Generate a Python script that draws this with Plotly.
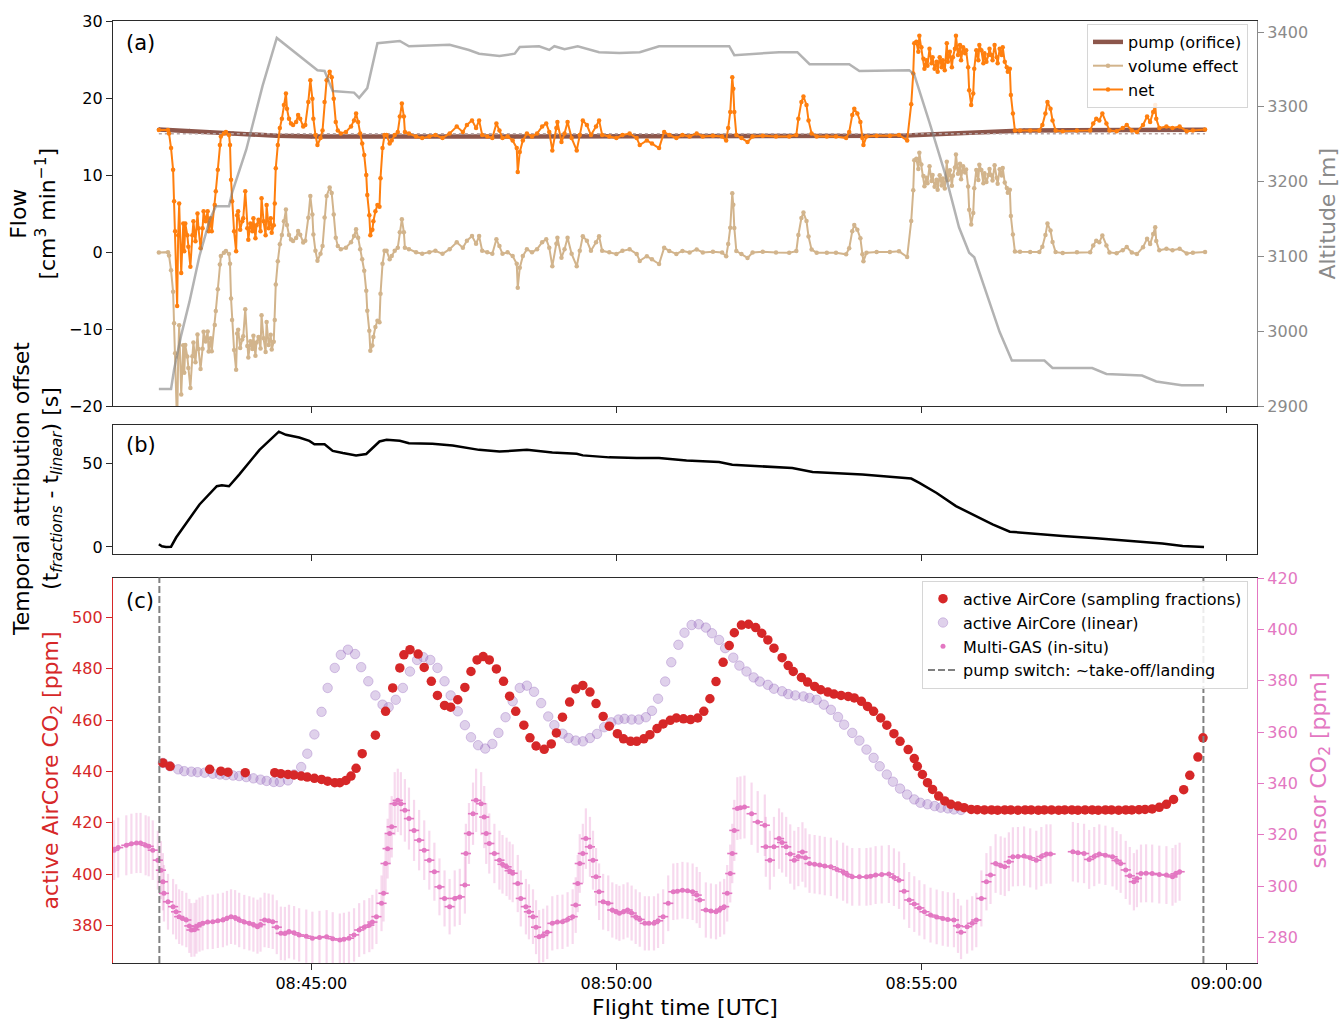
import numpy as np
import plotly.graph_objects as go

# ---------------------------------------------------------------------------
# Time base: seconds after 08:40:00 UTC
# ---------------------------------------------------------------------------
T_TICKS = [300, 600, 900, 1200]
T_TICK_LABELS = ["08:45:00", "08:50:00", "08:55:00", "09:00:00"]
T_RANGE = [104.9, 1230.1]

# pump switched on/off (~take-off and landing)
t_pump_switch = [150.5, 1177.4]

# ---------------------------------------------------------------------------
# (a) flows and altitude
# ---------------------------------------------------------------------------
t_alt = [150, 162, 165, 172, 180, 190, 200, 206, 219, 222, 236, 252, 266, 278,
         288, 306, 313, 321, 342, 347, 355, 365, 387, 396, 436, 455, 465, 485,
         500, 505, 524, 534, 539, 549, 562, 583, 603, 623, 642, 711, 716, 760,
         778, 790, 829, 839, 888, 893, 908, 923, 937, 947, 952, 967, 977, 989,
         1021, 1029, 1068, 1082, 1117, 1131, 1156, 1178]
altitude = [2923, 2923, 2949, 2995, 3039, 3101, 3149, 3167, 3167, 3185, 3243,
            3328, 3392, 3379, 3369, 3349, 3348, 3321, 3319, 3312, 3325, 3385,
            3388, 3381, 3383, 3376, 3371, 3368, 3371, 3380, 3381, 3376, 3381,
            3377, 3381, 3373, 3372, 3373, 3381, 3381, 3369, 3373, 3373, 3357,
            3357, 3348, 3349, 3343, 3279, 3212, 3139, 3105, 3099, 3039, 2999,
            2961, 2961, 2951, 2951, 2943, 2941, 2933, 2928, 2928]

t_pump = [150, 180, 223, 266, 300, 500, 700, 880, 913, 967, 1001, 1100, 1179]
pump_flow = [15.9, 15.75, 15.4, 15.1, 15.02, 15.02, 15.05, 15.1, 15.3, 15.6,
             15.78, 15.85, 15.88]
PUMP_NOMINAL = 15.35

# net flow into the AirCore (pump + volume effect)
net_samples = [
    (150, 15.85), (159, 15.85), (160, 15.4), (162, 13.5), (164, 10.7), (165, 6.6),
    (166, 2.7), (168, -7.0), (169, 2.2), (170, 6.3), (172, -2.7), (174, 3.7),
    (175, 0.1), (176, 3.7), (178, 2.2), (179, 0.7), (181, -1.9), (183, 2.2),
    (184, 4.0), (186, 1.4), (188, 5.0), (189, 3.1), (191, 0.5), (193, 3.1),
    (194, 5.3), (196, 4.0), (198, 5.3), (199, 2.7), (201, 4.4), (202, 2.7),
    (205, 6.1), (206, 7.9), (208, 10.7), (210, 13.9), (211, 15.0), (214, 15.4),
    (216, 15.6), (219, 15.2), (220, 13.9), (221, 9.4), (222, 6.6), (224, 2.7),
    (226, 0.1), (227, 4.8), (228, 5.3), (230, 2.9), (232, 4.0), (233, 4.4),
    (235, 7.9), (237, 3.1), (238, 1.6), (240, 3.7), (242, 2.7), (243, 4.4),
    (245, 1.8), (246, 3.5), (248, 4.2), (250, 2.7), (251, 7.0), (253, 4.0),
    (255, 2.2), (256, 6.1), (258, 3.1), (260, 4.4), (261, 2.5), (263, 3.5),
    (264, 6.3), (265, 10.9), (267, 13.9), (269, 16.1), (271, 17.3), (273, 19.1),
    (275, 20.6), (276, 18.6), (278, 17.3), (280, 16.7), (282, 16.5), (285, 16.9),
    (287, 17.8), (289, 17.3), (292, 16.3), (294, 16.5), (297, 19.5), (299, 22.3),
    (301, 19.9), (302, 17.3), (304, 15.2), (306, 13.9), (309, 14.8), (311, 15.8),
    (313, 19.5), (315, 22.3), (318, 23.4), (320, 22.7), (322, 19.9), (324, 16.9),
    (326, 15.8), (329, 15.4), (334, 15.6), (339, 16.3), (342, 17.1), (344, 18.0),
    (346, 16.9), (348, 15.4), (350, 14.1), (352, 12.6), (354, 10.0), (355, 7.4),
    (357, 4.8), (358, 2.2), (360, 2.9), (361, 4.0), (363, 5.3), (365, 6.1),
    (367, 5.9), (368, 9.6), (370, 13.5), (372, 15.2), (374, 15.2), (377, 14.1),
    (379, 14.5), (382, 15.2), (385, 15.6), (387, 17.6), (389, 19.3), (391, 17.6),
    (392, 15.6), (396, 15.4), (403, 15.0), (409, 14.8), (416, 15.0), (422, 15.2),
    (429, 14.8), (436, 15.4), (443, 16.3), (449, 15.6), (453, 16.5), (458, 17.1),
    (462, 16.1), (465, 17.1), (468, 15.2), (473, 15.0), (478, 14.8), (482, 16.7),
    (485, 15.8), (488, 14.8), (493, 15.0), (498, 14.5), (502, 13.5), (503, 10.4),
    (505, 13.0), (508, 14.5), (512, 15.4), (517, 15.0), (522, 15.4), (527, 16.3),
    (531, 16.7), (534, 15.6), (537, 13.2), (541, 16.1), (542, 16.9), (546, 14.3),
    (549, 15.4), (552, 16.9), (556, 14.8), (561, 13.2), (564, 15.2), (567, 17.1),
    (571, 16.5), (575, 15.2), (580, 16.3), (583, 17.1), (586, 15.2), (593, 15.0),
    (600, 14.8), (606, 15.2), (613, 15.4), (620, 14.8), (623, 13.9), (630, 14.5),
    (635, 14.1), (642, 13.5), (647, 15.6), (652, 15.2), (659, 14.8), (665, 15.2),
    (672, 15.0), (679, 15.4), (685, 15.0), (695, 15.1), (704, 15.0), (708, 14.5),
    (710, 16.1), (712, 18.2), (714, 22.7), (715, 21.2), (716, 18.2), (718, 15.2),
    (723, 14.8), (729, 14.3), (734, 15.0), (744, 15.1), (757, 15.0), (770, 15.0),
    (777, 15.2), (779, 17.3), (782, 19.5), (784, 20.2), (787, 19.1), (789, 17.1),
    (792, 15.4), (797, 15.0), (807, 15.0), (816, 15.0), (826, 14.8), (829, 15.6),
    (832, 17.8), (834, 18.6), (837, 18.0), (840, 16.9), (842, 14.8), (843, 13.9),
    (846, 15.0), (856, 15.1), (869, 15.1), (878, 15.2), (886, 14.5), (890, 19.2),
    (892, 23.2), (893, 27.1), (895, 27.3), (897, 26.0), (898, 28.1), (900, 26.6),
    (902, 25.1), (903, 23.8), (905, 24.9), (906, 24.2), (908, 26.4), (910, 24.5),
    (911, 25.3), (913, 23.8), (915, 24.7), (916, 23.4), (918, 25.3), (920, 24.0),
    (921, 24.9), (923, 23.6), (925, 27.1), (926, 24.7), (928, 26.0), (930, 24.0),
    (931, 25.3), (933, 26.4), (934, 28.1), (936, 25.6), (938, 26.9), (939, 24.9),
    (941, 26.6), (943, 25.8), (944, 26.2), (946, 24.0), (947, 21.0), (949, 19.1),
    (951, 20.6), (952, 23.8), (954, 26.2), (956, 24.9), (957, 26.9), (959, 26.2),
    (961, 24.5), (962, 25.8), (964, 24.7), (966, 25.6), (967, 26.4), (969, 25.6),
    (970, 24.9), (972, 26.9), (974, 25.3), (975, 24.5), (977, 26.4), (979, 25.6),
    (980, 26.6), (982, 24.7), (984, 24.0), (985, 23.4), (987, 23.8), (988, 20.4),
    (990, 18.0), (992, 15.8), (997, 15.8), (1007, 15.8), (1016, 15.8), (1019, 16.5),
    (1022, 18.0), (1024, 19.5), (1027, 18.6), (1029, 17.1), (1032, 15.8), (1039, 15.7),
    (1053, 15.8), (1066, 15.8), (1069, 16.7), (1072, 17.3), (1075, 17.1), (1078, 18.0),
    (1082, 16.7), (1085, 15.8), (1092, 15.7), (1098, 16.1), (1102, 16.5), (1107, 15.8),
    (1112, 15.6), (1118, 16.5), (1122, 17.6), (1125, 16.9), (1128, 18.2), (1130, 19.1),
    (1131, 17.3), (1134, 16.1), (1141, 16.3), (1147, 16.1), (1154, 16.3), (1161, 15.7),
    (1167, 15.8), (1179, 15.9),
]

# ---------------------------------------------------------------------------
# (b) temporal attribution offset  t_fractions - t_linear  [s]
# ---------------------------------------------------------------------------
t_offset = [150, 153, 157, 162, 167, 177, 190, 207, 212, 219, 229, 249, 268, 275,
            288, 298, 303, 313, 321, 331, 344, 354, 367, 374, 387, 396, 406, 419,
            439, 465, 485, 512, 537, 561, 567, 593, 620, 642, 669, 701, 714, 751,
            773, 793, 819, 842, 875, 890, 898, 915, 934, 954, 970, 987, 1006, 1039,
            1072, 1105, 1137, 1157, 1178]
offset = [1.6, 0.4, 0.0, 0.1, 5.6, 14.5, 25.4, 36.3, 36.9, 36.3, 43.3, 58.1, 69.0,
          67.1, 65.5, 63.5, 61.5, 61.5, 57.5, 56.2, 54.8, 55.6, 63.1, 64.1, 63.5,
          62.1, 62.1, 61.7, 60.7, 58.1, 57.1, 58.1, 56.5, 55.8, 54.8, 53.6, 53.2,
          53.2, 51.8, 50.8, 49.2, 48.2, 47.2, 44.8, 44.2, 43.3, 41.7, 40.9, 38.3,
          32.3, 24.4, 18.5, 13.5, 9.1, 8.1, 6.5, 5.2, 3.6, 2.0, 0.6, 0.0]

# ---------------------------------------------------------------------------
# (c) CO2
# ---------------------------------------------------------------------------
aircore_fractions = [
    (154, 443.3), (161, 442.0), (200, 440.8), (211, 440.1), (218, 439.7), (235, 439.5),
    (264, 439.5), (270, 439.1), (277, 438.8), (283, 438.6), (290, 438.2), (296, 437.8),
    (303, 437.3), (310, 436.9), (316, 436.2), (323, 435.6), (328, 435.6), (334, 436.5),
    (339, 438.2), (344, 441.2), (350, 446.9), (363, 454.1), (373, 463.4), (380, 472.5),
    (387, 480.3), (391, 485.4), (397, 487.4), (405, 485.7), (411, 480.5), (418, 475.1),
    (424, 469.6), (431, 465.7), (437, 465.0), (444, 467.9), (451, 472.7), (457, 478.9),
    (463, 483.4), (469, 484.7), (475, 483.4), (482, 479.9), (489, 475.1), (495, 469.3),
    (501, 463.4), (509, 458.0), (515, 453.1), (521, 449.9), (529, 448.6), (536, 450.7),
    (541, 455.0), (547, 461.1), (554, 467.0), (560, 472.1), (567, 473.5), (574, 470.9),
    (580, 466.4), (587, 461.4), (593, 457.6), (601, 454.7), (607, 452.7), (614, 451.7),
    (620, 451.7), (627, 452.7), (633, 454.3), (640, 456.7), (646, 458.5), (653, 459.9),
    (659, 460.8), (666, 460.5), (673, 460.2), (680, 460.8), (686, 463.4), (692, 468.3),
    (698, 475.0), (705, 482.5), (711, 489.0), (716, 494.0), (723, 497.0), (730, 497.3),
    (737, 496.0), (743, 493.8), (749, 491.2), (755, 488.0), (763, 484.3), (769, 481.2),
    (774, 478.9), (782, 476.6), (788, 474.8), (795, 473.1), (801, 471.8), (808, 470.9),
    (814, 470.1), (821, 469.6), (828, 469.2), (834, 468.6), (841, 467.3), (847, 465.3),
    (853, 463.4), (860, 460.8), (866, 458.0), (873, 454.7), (879, 451.7), (887, 448.5),
    (893, 445.0), (896, 442.0), (901, 438.8), (906, 435.6), (911, 433.0), (917, 430.4),
    (923, 428.5), (929, 427.2), (936, 426.5), (942, 425.9), (949, 425.2), (955, 425.1),
    (962, 425.0), (969, 425.0), (975, 424.9), (982, 425.0), (988, 425.0), (995, 424.9),
    (1002, 425.0), (1008, 425.0), (1015, 424.9), (1021, 425.0), (1028, 425.0),
    (1035, 424.9), (1041, 425.0), (1048, 425.0), (1054, 424.9), (1061, 425.0),
    (1068, 425.0), (1074, 424.9), (1081, 425.0), (1087, 425.0), (1094, 424.9),
    (1101, 425.0), (1107, 425.0), (1114, 425.1), (1120, 425.2), (1127, 425.4),
    (1134, 426.0), (1141, 427.2), (1148, 429.1), (1158, 432.9), (1164, 438.5),
    (1172, 445.6), (1177, 453.1),
]

aircore_linear = [
    (154, 443.3), (161, 442.0), (169, 440.8), (175, 440.1), (182, 439.9), (188, 439.7),
    (195, 439.5), (203, 439.1), (210, 438.8), (216, 438.6), (223, 438.4), (229, 438.2),
    (236, 437.8), (243, 437.3), (250, 436.8), (256, 436.3), (263, 435.9), (269, 435.9),
    (277, 436.5), (283, 438.8), (290, 441.7), (296, 446.9), (303, 454.4), (310, 463.2),
    (316, 472.5), (323, 480.3), (329, 485.4), (336, 487.4), (343, 485.7), (349, 480.6),
    (356, 475.1), (363, 469.6), (370, 466.0), (376, 465.0), (383, 467.9), (390, 472.5),
    (397, 478.9), (404, 483.4), (410, 484.5), (417, 483.4), (424, 480.3), (431, 475.1),
    (437, 469.6), (444, 463.4), (451, 458.0), (457, 453.3), (464, 450.2), (471, 448.9),
    (478, 450.7), (484, 455.0), (491, 461.1), (498, 467.3), (505, 472.5), (512, 473.4),
    (519, 471.0), (526, 466.6), (533, 461.4), (539, 458.0), (547, 454.7), (553, 453.0),
    (560, 452.0), (567, 451.7), (574, 453.0), (581, 454.6), (588, 457.2), (595, 459.1),
    (602, 460.2), (608, 460.5), (615, 460.2), (622, 460.2), (629, 461.1), (635, 463.6),
    (641, 468.3), (648, 475.0), (654, 482.5), (661, 489.3), (667, 494.0), (674, 497.0),
    (681, 497.3), (688, 496.0), (694, 493.8), (701, 491.2), (707, 488.0), (715, 484.3),
    (721, 481.2), (728, 478.9), (735, 476.6), (741, 475.0), (749, 473.7), (755, 472.2),
    (763, 471.2), (769, 470.1), (776, 469.6), (784, 469.2), (790, 468.6), (797, 467.9),
    (804, 466.0), (811, 464.0), (818, 461.2), (824, 458.2), (832, 455.0), (839, 452.0),
    (846, 448.5), (853, 445.3), (859, 442.0), (866, 438.8), (872, 436.0), (879, 433.3),
    (886, 431.0), (893, 429.1), (899, 427.8), (906, 427.2), (913, 426.5), (919, 425.9),
    (926, 425.6), (932, 425.2), (939, 425.0),
]

multigas = [
    (106, 314.0), (110, 315.0), (118, 315.9), (123, 316.5), (128, 316.8), (132, 316.8),
    (137, 315.9), (140, 315.5), (144, 314.0), (149, 310.1), (152, 306.2), (154, 301.7),
    (155, 297.2), (159, 293.9), (164, 292.0), (167, 290.0), (170, 288.1), (173, 287.5),
    (177, 286.8), (180, 284.5), (182, 282.9), (185, 283.0), (187, 284.2), (190, 285.0),
    (193, 285.5), (198, 286.0), (203, 286.1), (208, 286.5), (213, 286.8), (217, 287.5),
    (221, 288.1), (225, 287.8), (229, 286.8), (234, 286.0), (239, 285.5), (243, 285.0),
    (247, 284.2), (250, 285.0), (254, 286.8), (258, 286.5), (262, 286.1), (266, 284.0),
    (270, 281.6), (274, 281.5), (278, 282.3), (283, 281.8), (288, 281.0), (295, 280.5),
    (301, 279.7), (308, 280.0), (315, 280.3), (321, 279.5), (328, 279.0), (332, 279.3),
    (337, 279.7), (342, 281.0), (347, 282.9), (352, 284.0), (357, 284.8), (360, 286.0),
    (364, 288.1), (369, 293.3), (371, 297.2), (373, 308.8), (375, 314.6), (377, 320.5),
    (379, 323.1), (382, 332.1), (385, 333.4), (388, 332.1), (392, 329.5), (396, 326.3),
    (401, 321.7), (406, 317.9), (411, 314.0), (416, 310.1), (421, 305.6), (426, 299.7),
    (431, 295.2), (436, 292.0), (441, 295.2), (446, 295.8), (451, 300.4), (452, 312.7),
    (455, 320.5), (459, 328.2), (462, 333.4), (467, 332.1), (470, 326.9), (472, 320.5),
    (475, 316.6), (480, 312.7), (485, 310.1), (488, 308.5), (492, 307.5), (495, 306.0),
    (498, 305.0), (503, 301.0), (506, 295.2), (511, 292.0), (514, 290.0), (518, 288.1),
    (521, 284.0), (524, 280.3), (528, 280.8), (532, 282.0), (537, 285.5), (542, 286.0),
    (547, 286.1), (552, 287.0), (557, 288.1), (560, 292.6), (562, 301.0), (564, 308.8),
    (567, 312.7), (570, 318.5), (574, 315.3), (577, 310.1), (580, 303.6), (583, 297.8),
    (587, 293.9), (592, 293.3), (596, 290.7), (600, 290.0), (603, 289.4), (607, 290.0),
    (611, 290.7), (615, 289.5), (619, 288.1), (623, 287.0), (628, 285.5), (632, 285.5),
    (637, 285.5), (641, 286.5), (646, 288.1), (651, 293.3), (656, 297.8), (660, 298.0),
    (665, 298.4), (670, 298.2), (675, 297.8), (679, 296.5), (682, 294.6), (688, 290.7),
    (693, 290.3), (698, 290.0), (702, 291.0), (706, 292.0), (709, 297.2), (712, 304.9),
    (714, 312.7), (716, 321.7), (719, 330.2), (722, 330.5), (726, 330.8), (733, 328.2),
    (739, 325.0), (746, 323.7), (747, 315.3), (751, 310.1), (755, 315.3), (760, 318.5),
    (763, 317.0), (767, 315.3), (771, 312.5), (775, 310.1), (779, 311.5), (783, 313.3),
    (786, 311.0), (790, 308.8), (795, 308.5), (800, 308.2), (805, 307.8), (811, 307.5),
    (817, 306.5), (823, 305.6), (827, 304.5), (832, 303.6), (839, 303.6), (846, 303.6),
    (850, 303.8), (855, 304.3), (861, 304.5), (868, 304.7), (873, 303.5), (878, 302.3),
    (883, 298.0), (888, 294.6), (893, 293.0), (898, 291.5), (903, 290.0), (909, 288.7),
    (915, 288.0), (921, 287.4), (926, 287.0), (932, 286.8), (936, 284.5), (939, 282.0),
    (945, 284.2), (950, 285.5), (954, 286.8), (959, 295.2), (964, 301.7), (968, 304.3),
    (973, 308.8), (978, 308.0), (982, 307.5), (986, 309.5), (990, 311.4), (995, 311.5),
    (1001, 311.7), (1007, 311.0), (1013, 310.1), (1018, 311.5), (1023, 312.5),
    (1027, 312.5), (1049, 313.4), (1054, 313.0), (1060, 312.7), (1065, 310.4),
    (1070, 311.5), (1075, 312.5), (1081, 312.0), (1088, 311.4), (1092, 310.0),
    (1096, 308.8), (1101, 306.3), (1105, 304.0), (1109, 301.7), (1112, 303.0),
    (1116, 304.9), (1121, 305.0), (1127, 304.9), (1134, 304.5), (1141, 304.3),
    (1147, 303.6), (1150, 304.8), (1154, 305.6),
]
MULTIGAS_REL_ERR = 0.037   # relative sensor uncertainty
MULTIGAS_T_ERR = 5.0       # timing uncertainty [s]

# ---------------------------------------------------------------------------
# derived quantities
# ---------------------------------------------------------------------------
t_net, net_flow = (np.array(v, dtype=float) for v in zip(*net_samples))
volume_effect = net_flow - np.interp(t_net, t_pump, pump_flow)

t_frac, co2_frac = zip(*aircore_fractions)
t_lin, co2_lin = zip(*aircore_linear)
t_mg, co2_mg = (np.array(v, dtype=float) for v in zip(*multigas))

# ---------------------------------------------------------------------------
# styling
# ---------------------------------------------------------------------------
FONT = "DejaVu Sans"
INK = "#2b2b2b"
C_PUMP = "#8c564b"
C_VOL = "#d2b48c"
C_NET = "#ff7f0e"
C_ALT = "rgba(128,128,128,0.6)"
C_ALT_TXT = "#8a8a8a"
C_RED = "#d62728"
C_PURPLE = "rgba(148,103,189,0.30)"
C_PINK = "#e377c2"

TICK = 16
LABEL = 22

# plot area in pixels (figure 1341 x 1021)
M_L, M_R, M_T, M_B = 113, 84, 19, 58
PLOT_H = 1021 - M_T - M_B
PLOT_W = 1341 - M_L - M_R


def py(px):
    return (1021 - M_B - px) / PLOT_H


def pxx(px):
    return (px - M_L) / PLOT_W


fig = go.Figure()

# ---- (a) ----
fig.add_trace(go.Scatter(
    x=t_pump, y=pump_flow, mode="lines+markers", name="pump (orifice)",
    line=dict(color=C_PUMP, width=4.5), marker=dict(size=4, color=C_PUMP),
    xaxis="x", yaxis="y", legend="legend"))
fig.add_trace(go.Scatter(
    x=[t_pump[0], t_pump[-1]], y=[PUMP_NOMINAL, PUMP_NOMINAL], mode="lines",
    line=dict(color="#b7a5a5", width=1.5, dash="dot"), showlegend=False,
    xaxis="x", yaxis="y", hoverinfo="skip"))
fig.add_trace(go.Scatter(
    x=t_net, y=volume_effect, mode="lines+markers", name="volume effect",
    line=dict(color=C_VOL, width=2), marker=dict(size=4.5, color=C_VOL),
    xaxis="x", yaxis="y", legend="legend"))
fig.add_trace(go.Scatter(
    x=t_net, y=net_flow, mode="lines+markers", name="net",
    line=dict(color=C_NET, width=2), marker=dict(size=4.5, color=C_NET),
    xaxis="x", yaxis="y", legend="legend"))
fig.add_trace(go.Scatter(
    x=t_alt, y=altitude, mode="lines", line=dict(color=C_ALT, width=2.5),
    showlegend=False, xaxis="x", yaxis="y2"))

# ---- (b) ----
fig.add_trace(go.Scatter(
    x=t_offset, y=offset, mode="lines", line=dict(color="black", width=2.5),
    showlegend=False, xaxis="x2", yaxis="y3"))

# ---- (c) ----
fig.add_trace(go.Scatter(
    x=t_lin, y=co2_lin, mode="markers", name="active AirCore (linear)",
    marker=dict(size=9.5, color=C_PURPLE,
                line=dict(color="rgba(148,103,189,0.35)", width=1)),
    xaxis="x3", yaxis="y4", legend="legend2", legendrank=2))
fig.add_trace(go.Scatter(
    x=t_frac, y=co2_frac, mode="markers",
    name="active AirCore (sampling fractions)",
    marker=dict(size=9.5, color=C_RED),
    xaxis="x3", yaxis="y4", legend="legend2", legendrank=1))
fig.add_trace(go.Scatter(
    x=t_mg, y=co2_mg, mode="markers", name="Multi-GAS (in-situ)",
    marker=dict(size=5, color=C_PINK),
    error_y=dict(type="data", array=co2_mg * MULTIGAS_REL_ERR,
                 color="rgba(227,119,194,0.28)", thickness=2.2, width=0),
    error_x=dict(type="constant", value=MULTIGAS_T_ERR,
                 color=C_PINK, thickness=1.6, width=0),
    xaxis="x3", yaxis="y5", legend="legend2", legendrank=3))

shapes = []
for i, ts in enumerate(t_pump_switch):
    shapes.append(dict(
        type="line", xref="x3", yref="y4 domain", x0=ts, x1=ts, y0=0, y1=1,
        line=dict(color="#808080", width=2, dash="7px,3px"),
        showlegend=(i == 0), legend="legend2", legendrank=4,
        name="pump switch: ~take-off/landing"))

# ---- axes ----
common_x = dict(range=T_RANGE, tickvals=T_TICKS, ticktext=T_TICK_LABELS,
                ticks="outside", ticklen=6, tickwidth=1.3, tickcolor=INK,
                showline=True, linecolor=INK, linewidth=1.3, mirror=True,
                showgrid=False, zeroline=False,
                tickfont=dict(family=FONT, size=TICK, color="black"))

dom_a = [py(405), 1.0]
dom_b = [py(552.7), py(424)]
dom_c = [0.0, py(576.7)]


def yax(**kw):
    base = dict(ticks="outside", ticklen=6, tickwidth=1.3, showline=True,
                linewidth=1.3, showgrid=False, zeroline=False)
    base.update(kw)
    return base


fig.update_layout(
    width=1341, height=1021,
    margin=dict(l=M_L, r=M_R, t=M_T, b=M_B),
    paper_bgcolor="white", plot_bgcolor="white",
    font=dict(family=FONT, size=TICK, color="black"),
    xaxis=dict(common_x, anchor="y", matches="x3", showticklabels=False),
    xaxis2=dict(common_x, anchor="y3", matches="x3", showticklabels=False),
    xaxis3=dict(common_x, anchor="y4"),
    yaxis=yax(domain=dom_a, anchor="x", range=[-20, 30],
              tickvals=[-20, -10, 0, 10, 20, 30],
              ticktext=["\u221220", "\u221210", "0", "10", "20", "30"],
              linecolor=INK, tickcolor=INK,
              tickfont=dict(family=FONT, size=TICK, color="black")),
    yaxis2=yax(overlaying="y", side="right", anchor="x", range=[2900, 3414.7],
               tickvals=[2900, 3000, 3100, 3200, 3300, 3400],
               linecolor="#8a8a8a", tickcolor="#8a8a8a",
               tickfont=dict(family=FONT, size=TICK, color=C_ALT_TXT)),
    yaxis3=yax(domain=dom_b, anchor="x2", range=[-4.0, 72.9], tickvals=[0, 50],
               linecolor=INK, tickcolor=INK, mirror=True,
               tickfont=dict(family=FONT, size=TICK, color="black")),
    yaxis4=yax(domain=dom_c, anchor="x3", range=[365.4, 515.5],
               tickvals=[380, 400, 420, 440, 460, 480, 500],
               linecolor=C_RED, tickcolor=C_RED,
               tickfont=dict(family=FONT, size=TICK, color=C_RED)),
    yaxis5=yax(overlaying="y4", side="right", anchor="x3", range=[270.05, 420.2],
               tickvals=[280, 300, 320, 340, 360, 380, 400, 420],
               linecolor=C_PINK, tickcolor=C_PINK,
               tickfont=dict(family=FONT, size=TICK, color=C_PINK)),
    legend=dict(x=pxx(1248), y=py(22), xanchor="right", yanchor="top",
                bgcolor="rgba(255,255,255,0.85)", bordercolor="#d6d6d6",
                borderwidth=1, font=dict(family=FONT, size=16, color="black"),
                tracegroupgap=0),
    legend2=dict(x=pxx(1248), y=py(580), xanchor="right", yanchor="top",
                 bgcolor="rgba(255,255,255,0.85)", bordercolor="#d6d6d6",
                 borderwidth=1, font=dict(family=FONT, size=16, color="black"),
                 tracegroupgap=0),
    shapes=shapes,
    showlegend=True,
)

# axis titles and panel labels
ann = [
    dict(text="Flow<br>[cm<sup>3</sup> min<sup>\u22121</sup>]", x=pxx(33), y=py(212),
         textangle=-90, font=dict(size=LABEL, color="black")),
    dict(text="Altitude [m]", x=pxx(1328), y=py(212), textangle=-90,
         font=dict(size=LABEL, color=C_ALT_TXT)),
    dict(text="Temporal attribution offset<br>(t<sub><i>fractions</i></sub> - "
              "t<sub><i>linear</i></sub>) [s]",
         x=pxx(37), y=py(488), textangle=-90, font=dict(size=LABEL, color="black")),
    dict(text="active AirCore CO<sub>2</sub> [ppm]", x=pxx(52), y=py(770),
         textangle=-90, font=dict(size=LABEL, color=C_RED)),
    dict(text="sensor CO<sub>2</sub> [ppm]", x=pxx(1320), y=py(770),
         textangle=-90, font=dict(size=LABEL, color=C_PINK)),
    dict(text="Flight time [UTC]", x=0.5, y=py(1008),
         font=dict(size=LABEL, color="black")),
]
for a in ann:
    a.update(xref="paper", yref="paper", showarrow=False,
             xanchor="center", yanchor="middle")
    a["font"]["family"] = FONT

for lab, ypx in (("(a)", 41), ("(b)", 444), ("(c)", 600)):
    ann.append(dict(text=lab, x=pxx(124), y=py(ypx), xref="paper", yref="paper",
                    showarrow=False, xanchor="left", yanchor="middle",
                    font=dict(family=FONT, size=21, color="black")))

fig.update_layout(annotations=ann)

fig.write_html("out.html")
